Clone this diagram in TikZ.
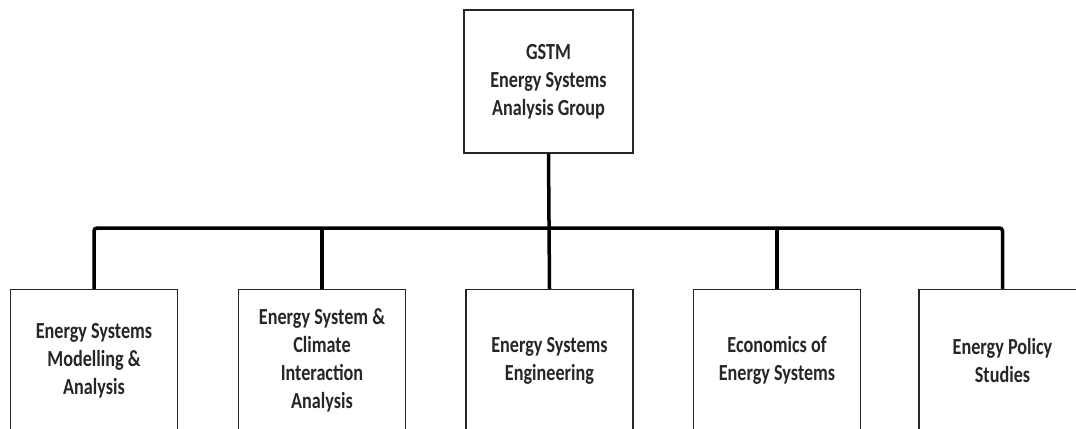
\documentclass[tikz,border=0pt]{standalone}
\usepackage{fontspec}
\setmainfont{Carlito}[FakeStretch=0.79]
\begin{document}
\begin{tikzpicture}[x=1bp,y=-1bp,
  box/.style={draw=black!85, line width=1.4bp, fill=white, align=center,
    font=\bfseries\fontsize{23bp}{28bp}\selectfont, text=black!85,
    inner sep=0pt},
  lowbox/.style={box, minimum width=167bp, minimum height=142bp},
  conn/.style={draw=black, line width=3.5bp}]
\useasboundingbox (0,0) rectangle (1076,428);
\clip (0,0) rectangle (1076,428);
\fill[white] (0,0) rectangle (1076,428);
\node[box, minimum width=169bp, minimum height=143bp] (top) at (548.5,81.5)
  {GSTM\\Energy Systems\\Analysis Group};
\node[lowbox] (b1) at (94,360.5) {Energy Systems\\Modelling \&\\Analysis};
\node[lowbox] (b2) at (322,360.5) {Energy System \&\\Climate\\Interaction\\Analysis};
\node[lowbox] (b3) at (549.5,360.5) {Energy Systems\\Engineering};
\node[lowbox] (b4) at (777,360.5) {Economics of\\Energy Systems};
\node[lowbox] (b5) at (1002.5,360.5) {Energy Policy\\Studies};
\coordinate (bus) at (549,228);
\draw[conn, rounded corners=3bp] (b1.north) |- (bus) -| (b5.north);
\draw[conn] (top.south) -- (b3.north);
\draw[conn] (b2.north) -- (b2.north |- bus);
\draw[conn] (b4.north) -- (b4.north |- bus);
\end{tikzpicture}
\end{document}
